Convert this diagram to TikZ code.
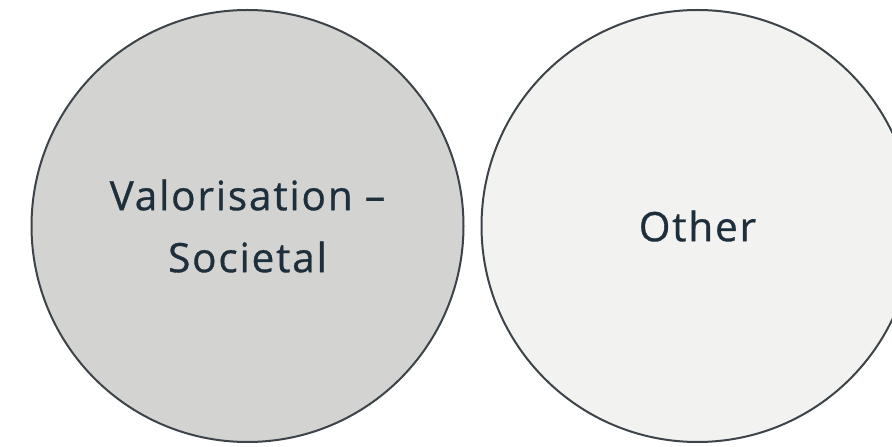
\documentclass[tikz,border=0pt]{standalone}
\usepackage{fontspec}
\setmainfont{Open Sans}[LetterSpace=4.5,FakeBold=0.8]
\usepackage{tikz}
\definecolor{rim}{HTML}{3C4449}
\definecolor{ink}{HTML}{1E2F3C}
\definecolor{darkfill}{HTML}{D3D3D2}
\definecolor{lightfill}{HTML}{F2F2F1}
\tikzset{
  blob/.style={circle,draw=rim,line width=2pt,minimum size=432pt,inner sep=0pt,
    text=ink,align=center,font=\fontsize{40.5}{62}\selectfont}
}

\begin{document}
\begin{tikzpicture}[x=1pt,y=1pt]
	% Frame of the page
	\useasboundingbox (0,0) rectangle (892,447);
	
	% The two circles
	\node[blob,fill=darkfill] (societal) at (247.5,221) {Valorisation --\\Societal};
	\node[blob,fill=lightfill] (other) at (697.5,221) {Other};
\end{tikzpicture}
\end{document}
